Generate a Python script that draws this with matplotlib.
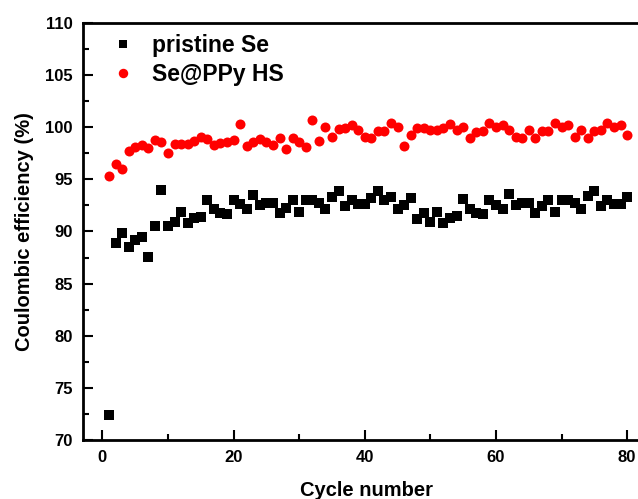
import matplotlib
matplotlib.use("Agg")
import matplotlib.pyplot as plt
from matplotlib.ticker import MultipleLocator

cycles = list(range(1, 81))
pristine_se = [72.4, 88.9, 89.9, 88.5, 89.2, 89.5, 87.6, 90.5, 94.0, 90.5,
               90.9, 91.9, 90.8, 91.3, 91.4, 93.0, 92.2, 91.8, 91.7, 93.0,
               92.6, 92.2, 93.5, 92.5, 92.7, 92.7, 91.8, 92.3, 93.0, 91.9,
               93.0, 93.0, 92.7, 92.2, 93.3, 93.9, 92.4, 93.0, 92.6, 92.6,
               93.2, 93.9, 93.0, 93.3, 92.2, 92.5, 93.2, 91.2, 91.8, 90.9,
               91.9, 90.8, 91.3, 91.5, 93.1, 92.2, 91.8, 91.7, 93.0, 92.5,
               92.2, 93.6, 92.5, 92.7, 92.7, 91.8, 92.4, 93.0, 91.9, 93.0,
               93.0, 92.7, 92.2, 93.4, 93.9, 92.4, 93.0, 92.6, 92.6, 93.3]
se_ppy_hs = [95.3, 96.5, 96.0, 97.7, 98.1, 98.3, 98.0, 98.8, 98.6, 97.5,
             98.4, 98.4, 98.4, 98.7, 99.1, 98.9, 98.3, 98.5, 98.6, 98.8,
             100.3, 98.2, 98.6, 98.9, 98.6, 98.3, 99.0, 97.9, 99.0, 98.6,
             98.1, 100.7, 98.7, 100.0, 99.1, 99.8, 99.9, 100.2, 99.7, 99.1,
             99.0, 99.6, 99.6, 100.4, 100.0, 98.2, 99.3, 99.9, 99.9, 99.7,
             99.7, 99.9, 100.3, 99.7, 100.0, 99.0, 99.5, 99.6, 100.4, 100.0,
             100.2, 99.7, 99.1, 99.0, 99.7, 99.0, 99.6, 99.6, 100.4, 100.0,
             100.2, 99.1, 99.7, 99.0, 99.6, 99.7, 100.4, 100.0, 100.2, 99.3]

plt.rcParams['font.family'] = ['Liberation Sans', 'DejaVu Sans']
plt.rcParams['font.weight'] = 'bold'

W, H = 638, 499
fig = plt.figure(figsize=(W / 100, H / 100), dpi=100)
left_px, bottom_px, top_px = 82.7, 440.0, 23.0
xmin, xmax = -3, 84
px_per_unit = 6.56
width_px = (xmax - xmin) * px_per_unit
ax = fig.add_axes([left_px / W, (H - bottom_px) / H, width_px / W, (bottom_px - top_px) / H])

ax.plot(cycles, pristine_se, linestyle='none', marker='s', markersize=6.6,
        color='black', markeredgewidth=0, label='pristine Se')
ax.plot(cycles, se_ppy_hs, linestyle='none', marker='o', markersize=7.2,
        color='#ff0000', markeredgewidth=0, label='Se@PPy HS')

ax.set_xlim(xmin, xmax)
ax.set_ylim(70, 110)
ax.xaxis.set_major_locator(MultipleLocator(20))
ax.xaxis.set_minor_locator(MultipleLocator(10))
ax.yaxis.set_major_locator(MultipleLocator(5))
ax.yaxis.set_minor_locator(MultipleLocator(2.5))
ax.tick_params(which='both', direction='in', width=1.5, labelsize=12)
ax.tick_params(which='major', length=7)
ax.tick_params(which='minor', length=4.5)
ax.tick_params(axis='y', which='both', pad=7)
ax.tick_params(axis='x', which='both', pad=7)
ax.tick_params(top=False, right=False)
for s in ax.spines.values():
    s.set_linewidth(2)

ax.set_xlabel('Cycle number', fontsize=14.5, fontweight='bold')
ax.set_ylabel('Coulombic efficiency (%)', fontsize=14.5, fontweight='bold')
ax.xaxis.set_label_coords((366 - left_px) / width_px, -0.098)
ax.yaxis.set_label_coords((34 - left_px) / width_px, 0.5)

leg = ax.legend(loc='upper left', bbox_to_anchor=(0.031, 1.0), frameon=False,
                fontsize=16.5, handlelength=1.0, handletextpad=0.75,
                labelspacing=0.25, borderaxespad=0.1)
leg.legend_handles[0].set_markersize(5.2)
leg.legend_handles[1].set_markersize(6.8)

fig.savefig('out.png', dpi=100)
